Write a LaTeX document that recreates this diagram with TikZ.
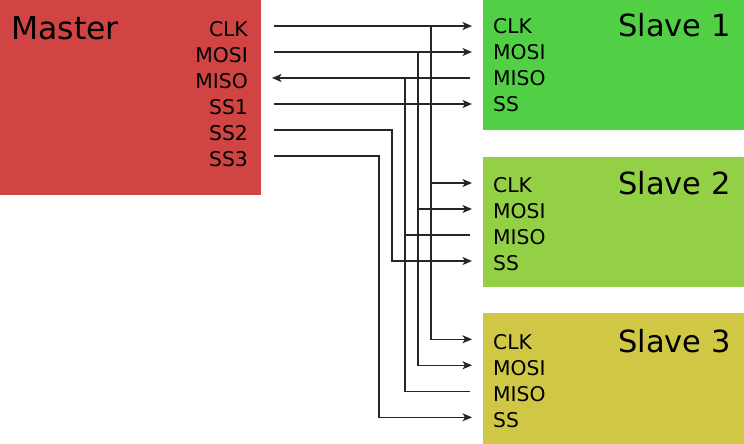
\documentclass[tikz,border=0pt]{standalone}
\usepackage{fontspec}
\setmainfont{DejaVu Sans}
\usetikzlibrary{arrows.meta}
\definecolor{masterred}{RGB}{209,68,68}
\definecolor{slaveone}{RGB}{82,208,69}
\definecolor{slavetwo}{RGB}{148,208,69}
\definecolor{slavethree}{RGB}{208,200,69}
\begin{document}
\begin{tikzpicture}[x=1pt,y=-1pt,
  box/.style={inner sep=0pt, outer sep=0pt, draw=none, anchor=north west},
  wire/.style={line width=1.2pt, black!85},
  tip/.style={-{Stealth[length=9.5pt,width=8pt,inset=2.5pt]}},
  port/.style={font=\fontsize{20.3}{20}\selectfont, inner sep=0pt},
  title/.style={font=\fontsize{30.5}{31}\selectfont, inner sep=0pt}]
\useasboundingbox (0,0) rectangle (744,444);
% boxes
\node[box, fill=masterred, minimum width=261pt, minimum height=195pt] (master) at (0,0) {};
\node[box, fill=slaveone, minimum width=261pt, minimum height=130pt] (slave1) at (483,0) {};
\node[box, fill=slavetwo, minimum width=261pt, minimum height=130pt] (slave2) at (483,157) {};
\node[box, fill=slavethree, minimum width=261pt, minimum height=131pt] (slave3) at (483,313) {};
% titles
\node[title, font=\fontsize{31.5}{32}\selectfont, anchor=base west] (mtitle) at (11,39.5) {Master};
\node[title, anchor=base east] (t1) at (731,37) {Slave 1};
\node[title, anchor=base east] (t2) at (731,194.3) {Slave 2};
\node[title, anchor=base east] (t3) at (731,352) {Slave 3};
% master ports
\node[port, anchor=base east] (lclk) at (248,36.7) {CLK};
\node[port, anchor=base east] (lmosi) at (248,62.7) {MOSI};
\node[port, anchor=base east] (lmiso) at (248,88.7) {MISO};
\node[port, anchor=base east] (lss1) at (248,114.7) {SS1};
\node[port, anchor=base east] (lss2) at (248,140.7) {SS2};
\node[port, anchor=base east] (lss3) at (248,166.7) {SS3};
% slave ports
\foreach \k/\b in {1/33.3,2/192.3,3/349}{
  \node[port, anchor=base west] (s\k lclk) at (493,\b) {CLK};
  \node[port, anchor=base west] (s\k lmosi) at (493,\b+26) {MOSI};
  \node[port, anchor=base west] (s\k lmiso) at (493,\b+52) {MISO};
  \node[port, anchor=base west] (s\k lss) at (493,\b+78) {SS};
}
% connection points
\coordinate (mclk) at (274,26);
\coordinate (mmosi) at (274,52);
\coordinate (mmiso) at (272,78);
\coordinate (mss1) at (274,104);
\coordinate (mss2) at (274,130);
\coordinate (mss3) at (274,156);
\foreach \k/\t in {1/0,2/157,3/313.3}{
  \coordinate (s\k clk) at (472,\t+26);
  \coordinate (s\k mosi) at (472,\t+52);
  \coordinate (s\k miso) at (470,\t+78);
  \coordinate (s\k ss) at (472,\t+104);
}
\coordinate (jclk) at (431,26);
\coordinate (jmosi) at (418,52);
\coordinate (jmiso) at (405,78);
\coordinate (bss2) at (392,130);
\coordinate (bss3) at (379,156);
\coordinate (jclk2) at (431,183);
\coordinate (jmosi2) at (418,209);
\coordinate (jmiso2) at (405,235);
% wires
\draw[wire,tip] (mclk) -- (s1clk);
\draw[wire,tip] (mmosi) -- (s1mosi);
\draw[wire,tip] (s1miso) -- (mmiso);
\draw[wire,tip] (mss1) -- (s1ss);
\draw[wire,tip] (jclk) |- (s3clk);
\draw[wire,tip] (jclk2) -- (s2clk);
\draw[wire,tip] (jmosi) |- (s3mosi);
\draw[wire,tip] (jmosi2) -- (s2mosi);
\draw[wire] (jmiso) |- (s3miso);
\draw[wire] (s2miso) -- (jmiso2);
\draw[wire,tip] (mss2) -- (bss2) |- (s2ss);
\draw[wire,tip] (mss3) -- (bss3) |- (s3ss);
\end{tikzpicture}
\end{document}
